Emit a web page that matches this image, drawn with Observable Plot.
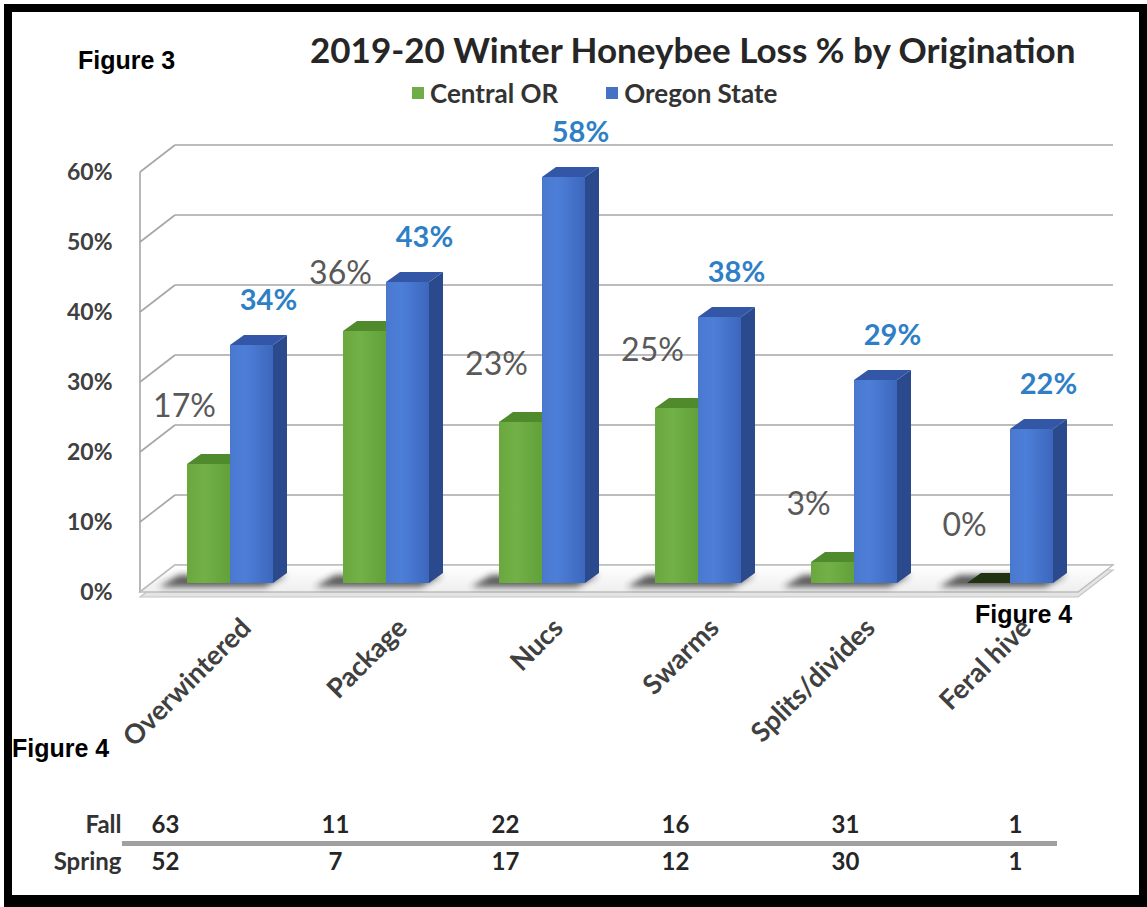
<!DOCTYPE html>
<html><head><meta charset="utf-8">
<script src="https://cdn.jsdelivr.net/npm/d3@7"></script>
<script src="https://cdn.jsdelivr.net/npm/@observablehq/plot@0.6"></script>
<style>
html,body{margin:0;padding:0;background:#fff;}
#page{position:relative;width:1147px;height:907px;overflow:hidden;background:#fff;}
#frame{position:absolute;left:4px;top:4px;width:1143px;height:903px;box-sizing:border-box;border:8px solid #000;border-bottom-width:12px;z-index:5;pointer-events:none;}
.abs{position:absolute;white-space:nowrap;z-index:6;}
.fig{font-family:"Liberation Sans",Arial,sans-serif;font-weight:bold;font-size:25px;color:#000;line-height:25px;}
#title{font-family:Lato,"Open Sans",sans-serif;font-weight:bold;font-size:35px;color:#262626;line-height:35px;left:310px;top:32px;}
#legend{font-family:Lato,"Open Sans",sans-serif;font-weight:bold;font-size:26px;color:#333;line-height:26px;left:412px;top:80px;display:flex;align-items:center;}
#legend .sw{display:inline-block;width:12px;height:12px;margin-right:6px;}
#legend .item{display:flex;align-items:center;margin-right:48px;}
#chart{position:absolute;left:0;top:120px;}
#table{position:absolute;left:0;top:800px;}
</style></head>
<body>
<svg width="0" height="0" style="position:absolute">
 <defs>
  <linearGradient id="gBlue" x1="0" x2="1" y1="0" y2="0">
   <stop offset="0" stop-color="#4a78cf"/><stop offset="0.35" stop-color="#4d7fd8"/><stop offset="1" stop-color="#3d67bd"/>
  </linearGradient>
  <linearGradient id="gGreen" x1="0" x2="1" y1="0" y2="0">
   <stop offset="0" stop-color="#6aa83f"/><stop offset="0.4" stop-color="#72b147"/><stop offset="1" stop-color="#62a03a"/>
  </linearGradient>
  <linearGradient id="gFloor" x1="0" x2="0" y1="0" y2="1">
   <stop offset="0" stop-color="#ffffff"/><stop offset="1" stop-color="#eeeeee"/>
  </linearGradient>
  <filter id="fBlur" x="-50%" y="-50%" width="200%" height="200%"><feGaussianBlur stdDeviation="3"/></filter>
 </defs>
</svg>
<div id="page">
 <div id="frame"></div>
 <div class="abs fig" style="left:78px;top:48px;">Figure 3</div>
 <div class="abs" id="title">2019-20 Winter Honeybee Loss % by Origination</div>
 <div class="abs" id="legend"></div>
 <div id="chart"></div>
 <div class="abs fig" style="left:975px;top:602px;">Figure 4</div>
 <div class="abs fig" style="left:12px;top:736px;">Figure 4</div>
 <div id="table"></div>
</div>
<script>
// ---------- data ----------
const categories = ["Overwintered", "Package", "Nucs", "Swarms", "Splits/divides", "Feral hive"];
const seriesNames = ["Central OR", "Oregon State"];
const centralOR = [0.17, 0.36, 0.23, 0.25, 0.03, 0.00];
const oregonState = [0.34, 0.43, 0.58, 0.38, 0.29, 0.22];
const yTicks = [0, 0.1, 0.2, 0.3, 0.4, 0.5, 0.6];
const seasonRows = ["Fall", "Spring"];
const fallCounts = [63, 11, 22, 16, 31, 1];
const springCounts = [52, 7, 17, 12, 30, 1];

// ---------- styling ----------
const seriesColors = {"Central OR": "#70ad47", "Oregon State": "#4472c4"};
const frontFill = {"Central OR": "url(#gGreen)", "Oregon State": "url(#gBlue)"};
const topFill = {"Central OR": "#4f8a2c", "Oregon State": "#3357a6"};
const sideFill = {"Central OR": "#3f6f22", "Oregon State": "#2b4a8e"};
const DEPTH = [14, -10];          // bar depth offset
const FRONT = [-11, 9];           // front wall plane offset
const BACK = [24, -18];           // back wall plane offset
const BAR_W = 43;
const FONT = "Lato, 'Open Sans', sans-serif";
const pct = d3.format(".0%");

const bars = categories.flatMap((c, i) => [
  {category: c, series: seriesNames[0], value: centralOR[i]},
  {category: c, series: seriesNames[1], value: oregonState[i]}
]);

// legend
const legend = document.getElementById("legend");
seriesNames.forEach(s => {
  const it = document.createElement("span");
  it.className = "item";
  it.innerHTML = `<span class="sw" style="background:${seriesColors[s]}"></span>${s}`;
  legend.appendChild(it);
});

function bwOf(x) { return typeof x.bandwidth === "function" ? x.bandwidth() : x.bandwidth; }
const P = (a, o) => [a[0] + o[0], a[1] + o[1]];
const pts = arr => arr.map(p => p.join(",")).join(" ");

// walls, grid, floor and shadows
function walls(index, scales) {
  const {x, y} = scales;
  const [xl, xr] = x.range();
  const bw = bwOf(x);
  const g = d3.create("svg:g");
  const y0 = y(0), yTop = y(yTicks[yTicks.length - 1]);
  const line = (a, b, w = 1.6) => g.append("line").attr("x1", a[0]).attr("y1", a[1]).attr("x2", b[0]).attr("y2", b[1])
    .attr("stroke", "#a6a6a6").attr("stroke-width", w);
  for (const t of yTicks) {
    const yt = y(t);
    line(P([xl, yt], FRONT), P([xl, yt], BACK));
    line(P([xl, yt], BACK), P([xr, yt], BACK));
  }
  line(P([xl, y0], FRONT), P([xl, yTop], FRONT));
  const floor = [P([xl, y0], FRONT), P([xr, y0], FRONT), P([xr, y0], BACK), P([xl, y0], BACK)];
  g.append("polygon").attr("points", pts(floor.map(p => [p[0], p[1] + 5])))
    .attr("fill", "#e4e4e4").attr("stroke", "#c4c4c4").attr("stroke-width", 1.2);
  g.append("polygon").attr("points", pts(floor))
    .attr("fill", "url(#gFloor)").attr("stroke", "#bdbdbd").attr("stroke-width", 1.4);
  for (const c of categories) {
    const x0 = x(c);
    const sh = [[x0 - 28, y0 + 4], [x0 + bw - 8, y0 + 4], [x0 + bw + 14, y0 - 8], [x0 - 8, y0 - 8]];
    g.append("polygon").attr("points", pts(sh)).attr("fill", "#2a2a2a").attr("opacity", 0.75)
      .attr("filter", "url(#fBlur)");
  }
  return g.node();
}

// side and top faces of the bars (drawn before the fronts)
function faces(index, scales) {
  const {x, y} = scales;
  const bw = bwOf(x);
  const g = d3.create("svg:g");
  const y0 = y(0);
  for (const d of bars) {
    const blue = d.series === seriesNames[1];
    const xL = x(d.category) + (blue ? bw / 2 : 0), xR = xL + bw / 2;
    const yT = y(d.value);
    g.append("polygon").attr("points", pts([[xR, yT], P([xR, yT], DEPTH), P([xR, y0], DEPTH), [xR, y0]]))
      .attr("fill", sideFill[d.series]);
    g.append("polygon").attr("points", pts([[xL, yT], P([xL, yT], DEPTH), P([xR, yT], DEPTH), [xR, yT]]))
      .attr("fill", d.value === 0 ? "#1f3310" : topFill[d.series]);
  }
  return g.node();
}

const green = bars.filter(d => d.series === seriesNames[0]);
const blue = bars.filter(d => d.series === seriesNames[1]);

const chart = Plot.plot({
  width: 1147,
  height: 660,
  marginTop: 43,
  marginBottom: 197,
  marginLeft: 151,
  marginRight: 58,
  style: {fontFamily: FONT, background: "transparent", color: "#404040", overflow: "visible"},
  x: {domain: categories, paddingInner: 0.45, paddingOuter: 0.225, label: null},
  y: {domain: [0, 0.6], label: null},
  marks: [
    walls,
    faces,
    Plot.barY(green, {x: "category", y: "value", fill: frontFill[seriesNames[0]], insetRight: BAR_W}),
    Plot.barY(blue, {x: "category", y: "value", fill: frontFill[seriesNames[1]], insetLeft: BAR_W}),
    Plot.text(green, {x: "category", y: "value", text: d => pct(d.value), dx: -46, dy: -58,
      fill: "#595959", fontSize: 32, fontFamily: FONT}),
    Plot.text(blue, {x: "category", y: "value", text: d => pct(d.value), dx: 38, dy: -45,
      fill: "#2f7fc6", fontSize: 29, fontWeight: "bold", fontFamily: FONT}),
    Plot.axisY(yTicks, {tickFormat: pct, tickSize: 0, tickPadding: 39, dy: 9, fontSize: 23,
      fontWeight: "bold", label: null}),
    Plot.axisX({tickRotate: -45, tickSize: 0, tickPadding: 40, dx: 16, fontSize: 27,
      fontWeight: "bold", label: null})
  ]
});
document.getElementById("chart").appendChild(chart);

// counts table
const tableRows = seasonRows.flatMap((r, j) => categories.map((c, i) => ({
  row: r, category: c, n: (j === 0 ? fallCounts : springCounts)[i]
})));
const table = Plot.plot({
  width: 1147,
  height: 80,
  marginTop: 25,
  marginBottom: 18,
  marginLeft: 122,
  marginRight: 90,
  style: {fontFamily: FONT, background: "transparent", color: "#262626", overflow: "visible"},
  x: {type: "point", domain: categories, padding: 0.24, axis: null},
  y: {type: "point", domain: seasonRows, padding: 0, axis: null},
  marks: [
    Plot.ruleY(seasonRows.slice(0, 1), {y: d => d, dy: 18, stroke: "#a0a0a0", strokeWidth: 5}),
    Plot.text(tableRows, {x: "category", y: "row", text: "n", fontSize: 24, fontWeight: "bold", fill: "#262626"}),
    Plot.text(seasonRows, {x: () => categories[0], y: d => d, text: d => d, dx: -44, textAnchor: "end",
      fontSize: 24, fontWeight: "bold", fill: "#333"})
  ]
});
document.getElementById("table").appendChild(table);
</script>
</body></html>
